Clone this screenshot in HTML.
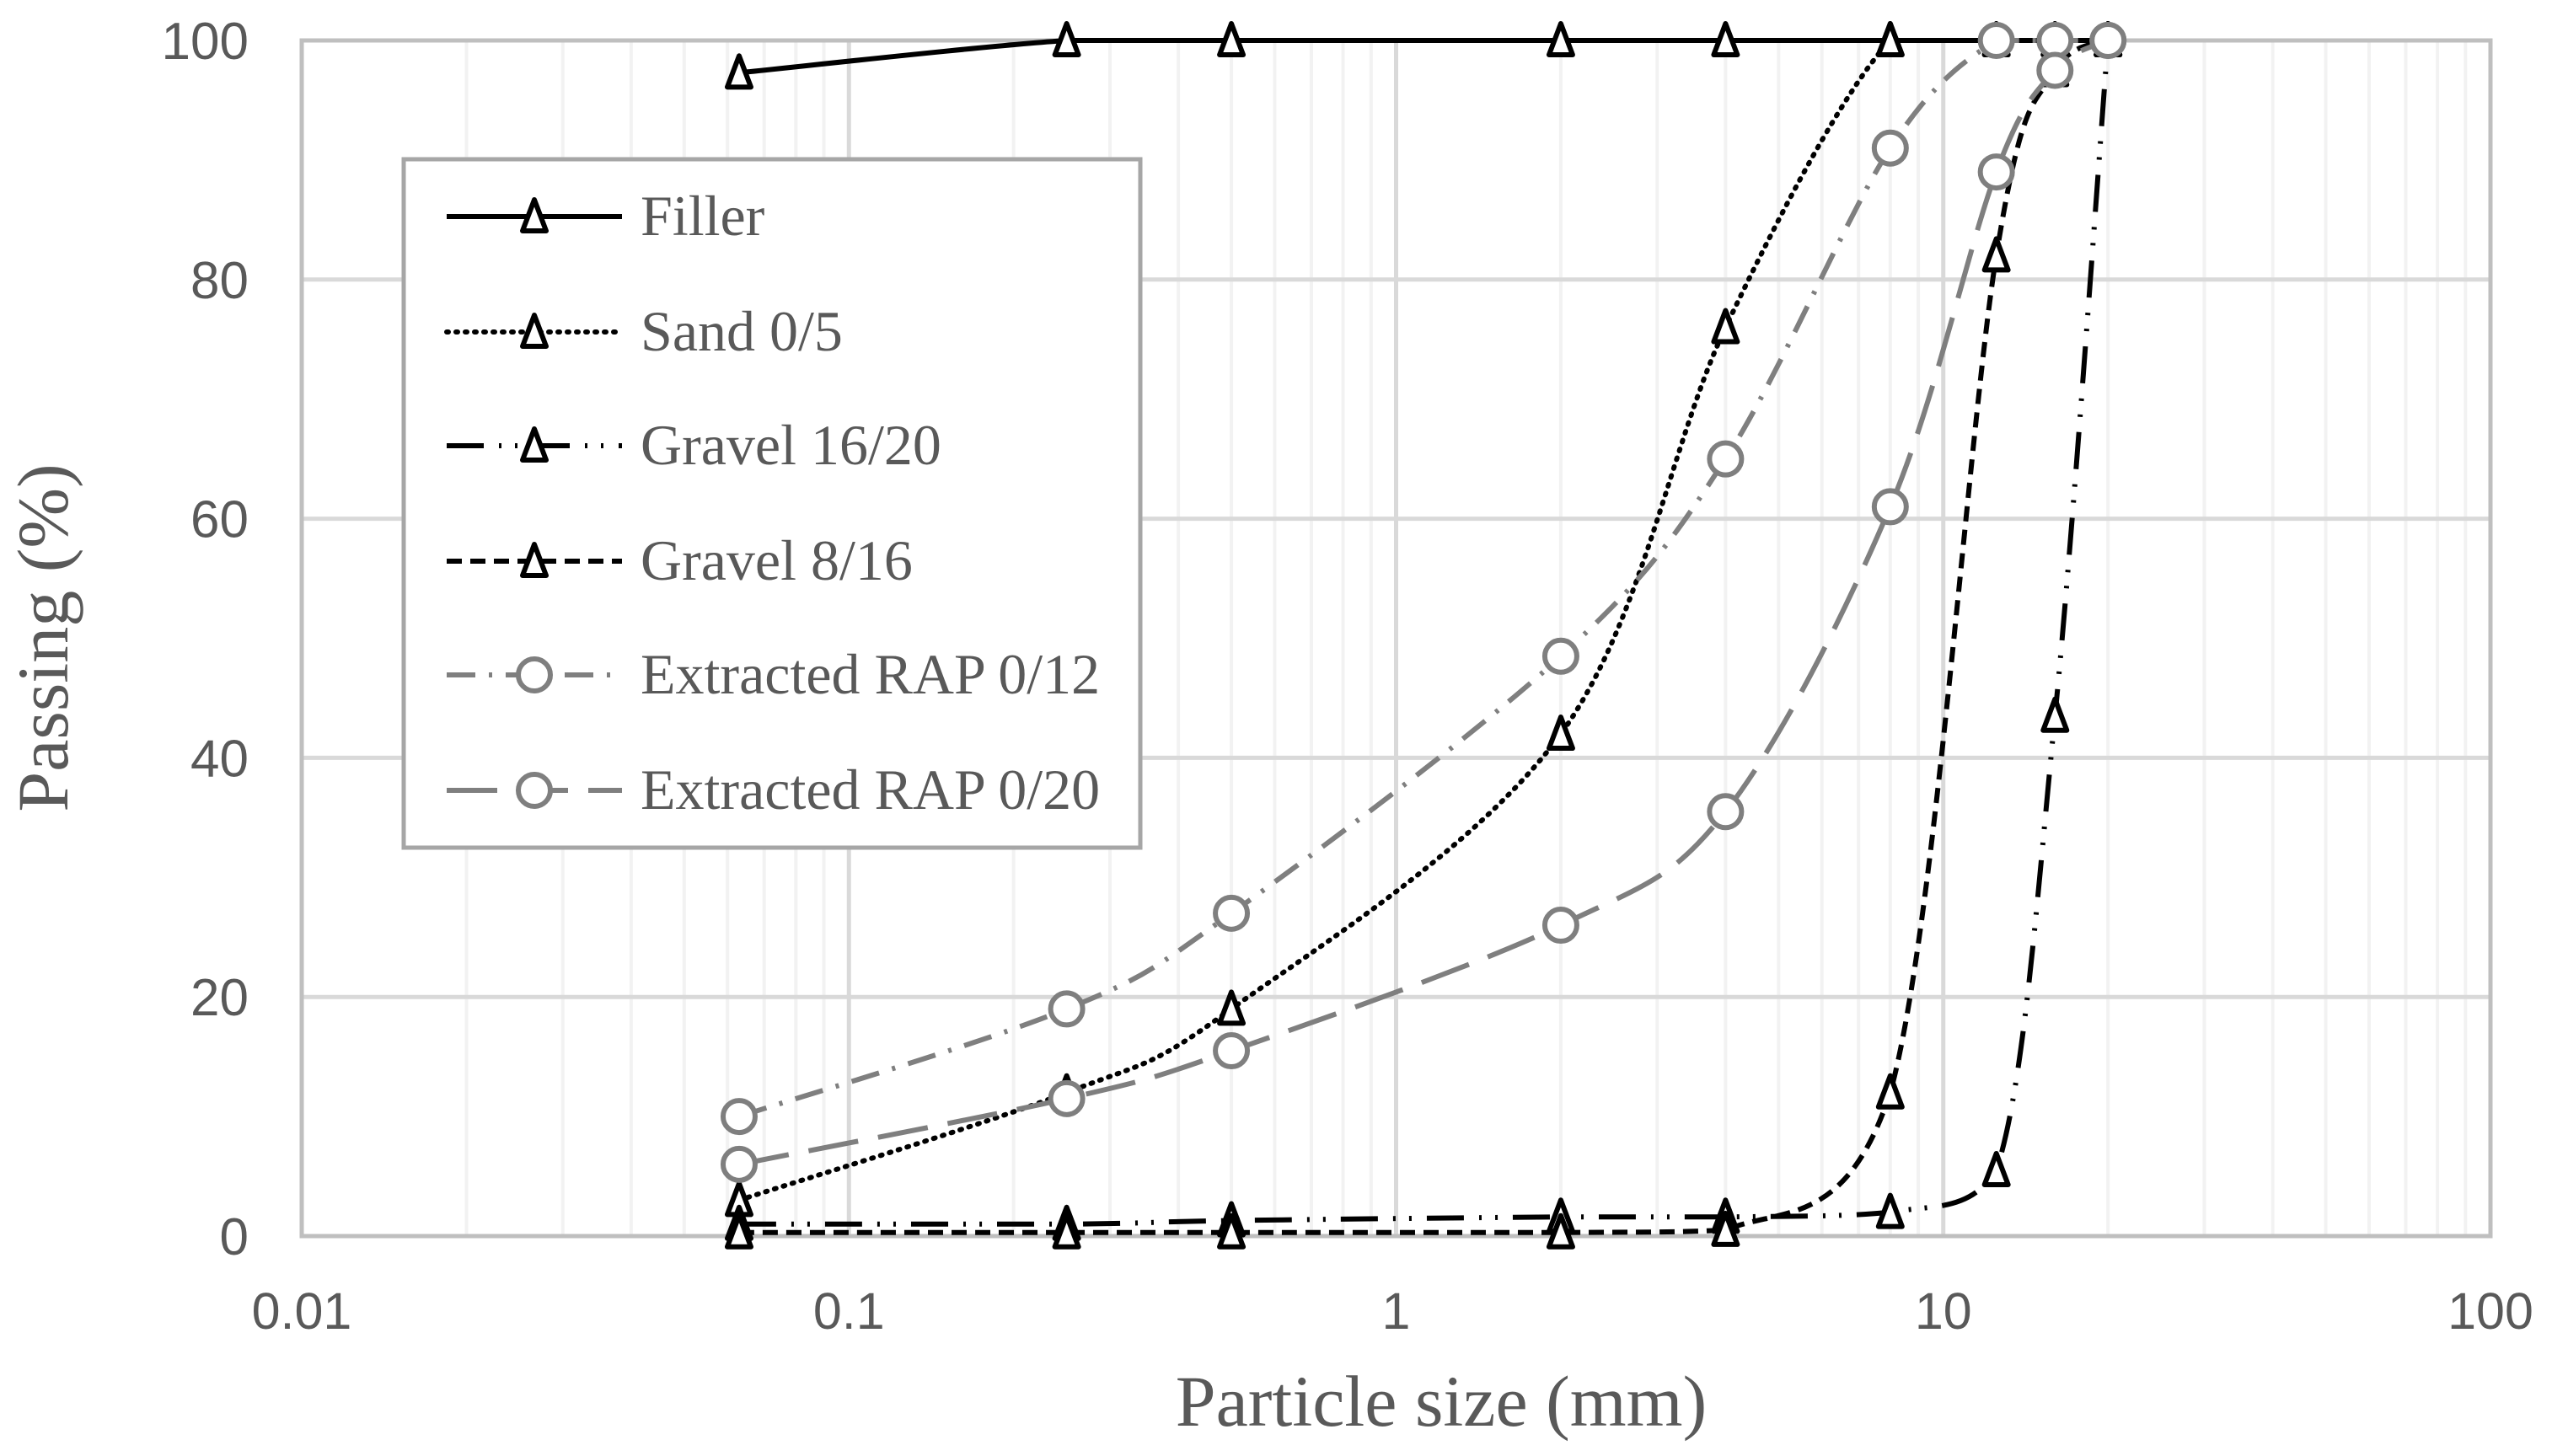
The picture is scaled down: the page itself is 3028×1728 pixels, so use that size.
<!DOCTYPE html>
<html><head><meta charset="utf-8"><style>
html,body{margin:0;padding:0;background:#fff;width:3028px;height:1728px;overflow:hidden}
svg text{font-family:"Liberation Serif",serif}
</style></head><body>
<svg id="chart" width="3028" height="1728" viewBox="0 0 3028 1728" xmlns="http://www.w3.org/2000/svg">
<g id="grid"></g>
<g id="axes"></g>
<g id="series"></g>
<g id="legend"></g>
<text x="1710" y="1692" font-size="86" fill="#595959" text-anchor="middle">Particle size (mm)</text>
<text transform="translate(80,757) rotate(-90)" font-size="86" fill="#595959" text-anchor="middle">Passing (%)</text>
</svg>
<script>
const sieves = [0.063, 0.25, 0.5, 2, 4, 8, 12.5, 16, 20];
const filler = [97.3, 100, 100, 100, 100, 100, 100, 100, 100];
const sand = [3, 12, 19, 42, 76, 100, 100, 100, 100];
const gravel1620 = [1, 1, 1.3, 1.6, 1.6, 2, 5.5, 43.5, 100];
const gravel816 = [0.3, 0.3, 0.3, 0.3, 0.5, 12, 82, 97.5, 100];
const rap012 = [10, 19, 27, 48.5, 65, 91, 100, 100, 100];
const rap020 = [6, 11.5, 15.5, 26, 35.5, 61, 89, 97.5, 100];
const seriesNames = ["Filler", "Sand 0/5", "Gravel 16/20", "Gravel 8/16", "Extracted RAP 0/12", "Extracted RAP 0/20"];
const xTicks = [0.01, 0.1, 1, 10, 100];
const xTickLabels = ["0.01", "0.1", "1", "10", "100"];
const yTicks = [0, 20, 40, 60, 80, 100];

const L=358,R=2955,T=48,B=1467;
const NS="http://www.w3.org/2000/svg";
function X(v){return L+(Math.log10(v)+2)/4*(R-L);}
function Y(v){return B-v/100*(B-T);}
function mk(tag,attrs,parent){const e=document.createElementNS(NS,tag);for(const k in attrs)e.setAttribute(k,attrs[k]);parent.appendChild(e);return e;}
const grid=document.getElementById('grid'),axes=document.getElementById('axes'),ser=document.getElementById('series'),leg=document.getElementById('legend');
for(let d=-2;d<2;d++){for(let m=2;m<=9;m++){const x=X(m*Math.pow(10,d));
 const l=mk('line',{x1:x,x2:x,y1:T,y2:B,stroke:'#f2f2f2','stroke-width':4},grid);
 
 }}
xTicks.forEach((t,i)=>{const x=X(t);
 const l=mk('line',{x1:x,x2:x,y1:T,y2:B,stroke:'#d9d9d9','stroke-width':5},grid);
 
 
 const tx=mk('text',{x:x,y:1577,'font-size':61,fill:'#595959','text-anchor':'middle',style:'font-family:"Liberation Sans",sans-serif'},axes);
 tx.textContent=xTickLabels[i];
 
 });
yTicks.forEach(t=>{const y=Y(t);
 const l=mk('line',{x1:L,x2:R,y1:y,y2:y,stroke:'#d9d9d9','stroke-width':5},grid);
 
 
 const tx=mk('text',{x:295,y:y+22,'font-size':62,fill:'#595959','text-anchor':'end',style:'font-family:"Liberation Sans",sans-serif'},axes);
 tx.textContent=t;
 
 });
const fr=mk('rect',{x:L,y:T,width:R-L,height:B-T,fill:'none',stroke:'#bfbfbf','stroke-width':5},axes);



const styles=[
 {data:filler,color:'#000',dash:'',marker:'tri'},
 {data:sand,color:'#000',dash:'2 9',marker:'tri'},
 {data:gravel1620,color:'#000',dash:'44 18 3 16 3 18',marker:'tri'},
 {data:gravel816,color:'#000',dash:'18 10',marker:'tri'},
 {data:rap012,color:'#7f7f7f',dash:'34 16 4 16',marker:'circ'},
 {data:rap020,color:'#7f7f7f',dash:'60 24',marker:'circ'}];
function clamp(v,a,b){const lo=Math.min(a,b),hi=Math.max(a,b);return Math.max(lo,Math.min(hi,v));}
function smooth(pts){let d='M'+pts[0][0]+','+pts[0][1];
 for(let i=0;i<pts.length-1;i++){const p0=pts[Math.max(0,i-1)],p1=pts[i],p2=pts[i+1],p3=pts[Math.min(pts.length-1,i+2)];
 const t=1/6;
 const c1=[p1[0]+(p2[0]-p0[0])*t,clamp(p1[1]+(p2[1]-p0[1])*t,p1[1],p2[1])];
 const c2=[p2[0]-(p3[0]-p1[0])*t,clamp(p2[1]-(p3[1]-p1[1])*t,p1[1],p2[1])];
 d+=' C'+c1[0]+','+c1[1]+' '+c2[0]+','+c2[1]+' '+p2[0]+','+p2[1];}return d;}
function marker(type,x,y,color,parent,name){let e;
 if(type==='tri'){e=mk('path',{d:`M${x},${y-20} L${x+14},${y+17} L${x-14},${y+17} Z`,fill:'#fff',stroke:color,'stroke-width':6,'stroke-linejoin':'round'},parent);}
 else{e=mk('circle',{cx:x,cy:y,r:19,fill:'#fff',stroke:color,'stroke-width':6},parent);}
 
 }
[0,1,2,3,4,5].forEach(i=>{const s=styles[i];const g=mk('g',{},ser);
 
 
 const pts=sieves.map((v,k)=>[X(v),Y(s.data[k])]);
 const p=mk('path',{d:smooth(pts),fill:'none',stroke:s.color,'stroke-width':6,'stroke-dasharray':s.dash,'stroke-linecap':s.dash==='2 9'?'round':'butt'},g);
 
 
 pts.forEach(q=>marker(s.marker,q[0],q[1],s.color,g,'data-point'));});

const lb=mk('rect',{x:479,y:189,width:874,height:817,fill:'#fff',stroke:'#a6a6a6','stroke-width':5},leg);


const ly=[257,394,529,666,801,938];
seriesNames.forEach((n,i)=>{const s=styles[i];const g=mk('g',{},leg);
 
 
 const l=mk('line',{x1:530,x2:738,y1:ly[i],y2:ly[i],stroke:s.color,'stroke-width':6,'stroke-dasharray':s.dash,'stroke-linecap':s.dash==='2 9'?'round':'butt'},g);
 
 
 marker(s.marker,634,ly[i],s.color,g,'legend-marker');
 const t=mk('text',{x:760,y:ly[i]+22,'font-size':68,fill:'#595959'},g);
 t.textContent=n;
 
 });
</script>
</body></html>
